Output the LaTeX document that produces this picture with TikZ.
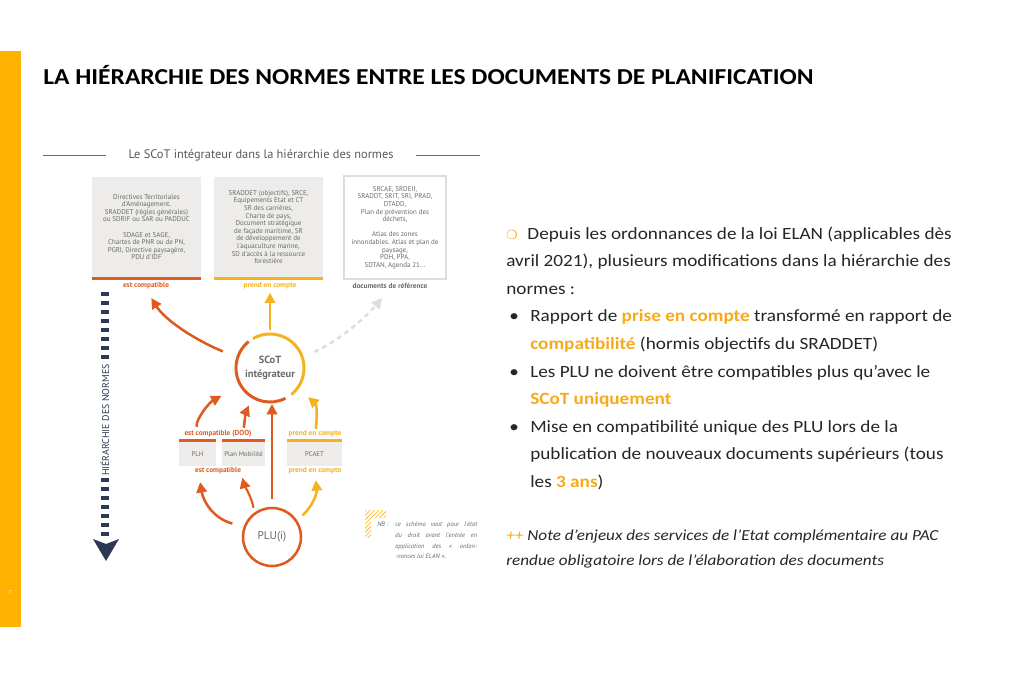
\documentclass[tikz,border=0pt]{standalone}
\usepackage{fontspec}
\setmainfont{Carlito}[FakeStretch=1.12]
\newfontfamily\dinfont{PT Sans}
\newfontfamily\symfont{DejaVu Sans}
\usetikzlibrary{arrows.meta,calc,patterns,positioning}
\definecolor{baryellow}{HTML}{FFB300}
\definecolor{compatorange}{HTML}{DE5B1F}
\definecolor{priseyellow}{HTML}{F5B21C}
\definecolor{refgray}{HTML}{DEDEDE}
\definecolor{boxgray}{HTML}{EDECEA}
\definecolor{textgray}{HTML}{6A6A6A}
\definecolor{navyarrow}{HTML}{2B3A52}
\definecolor{bodytext}{HTML}{262626}
\definecolor{highlight}{HTML}{F6AA1C}

\begin{document}
\begin{tikzpicture}[x=0.025cm,y=-0.025cm,>={Triangle[length=2.6mm,width=2.6mm]},
  docbox/.style={fill=boxgray,minimum width=2.725cm,minimum height=2.5cm,inner sep=0pt,
    align=center,text=textgray,font=\dinfont\fontsize{4.95}{5.4}\selectfont},
  petitbox/.style={fill=boxgray,minimum height=0.6cm,inner sep=0pt,text=textgray,
    font=\dinfont\fontsize{4.8}{5.5}\selectfont},
  lien/.style={inner sep=0pt,font=\dinfont\bfseries\fontsize{5.2}{6}\selectfont},
  fleche/.style={->,line width=1.8pt},
  ligne/.style={anchor=base west,inner sep=0pt,text=bodytext,font=\fontsize{12.2}{14}\selectfont}]
\useasboundingbox (0,0) rectangle (1024,678);
\fill[white] (0,0) rectangle (1024,678);

% bandeau + titre
\fill[baryellow] (0,51) rectangle (21,627);
\node[text=white!75!baryellow,font=\fontsize{4.5}{5}\selectfont] (pagenum) at (10,592) {7};
\node[anchor=base west,inner sep=0pt,font=\bfseries\fontsize{16.2}{18}\selectfont] (titre) at (43,84)
  {LA HIÉRARCHIE DES NORMES ENTRE LES DOCUMENTS DE PLANIFICATION};

% schema
\node[text=textgray!85!black,font=\dinfont\fontsize{8.8}{10}\selectfont] (entete) at (261,155)
  {Le SCoT intégrateur dans la hiérarchie des normes};
\draw[textgray,line width=0.6pt] ([xshift=-0.45cm]entete.west) -- ++(-63,0);
\draw[textgray,line width=0.6pt] ([xshift=0.45cm]entete.east) -- ++(64,0);

\node[docbox] (dirbox) at (146.5,227) {Directives Territoriales\\d'Aménagement.\\SRADDET (règles générales)\\ou SDRIF ou SAR ou PADDUC\\[5.4pt]
  SDAGE et SAGE,\\Chartes de PNR ou de PN,\\PGRI, Directive paysagère,\\PDU d'IDF};
\node[docbox] (objbox) at (268.5,227) {SRADDET (objectifs), SRCE,\\Equipements Etat et CT\\SR des carrières,\\Charte de pays,\\Document stratégique\\de façade maritime, SR\\
  de développement de\\l'aquaculture marine,\\SD d'accès à la ressource\\forestière};
\node[docbox,fill=white,draw=refgray,line width=1.2pt,minimum width=2.55cm,minimum height=2.575cm] (refbox) at (395,227.5)
  {SRCAE, SRDEII,\\SRADDT, SRIT, SRI, PRAD,\\DTADD,\\Plan de prévention des\\déchets,\\[5.4pt]Atlas des zones\\innondables. Atlas et plan de\\paysage,\\PDH, PPA,\\SDTAN, Agenda 21...};
\fill[compatorange] (dirbox.south west) rectangle ($(dirbox.south east)+(0,3)$);
\fill[priseyellow] (objbox.south west) rectangle ($(objbox.south east)+(0,3)$);

\node[lien,text=compatorange] (compathaut) at (146,286) {est compatible};
\node[lien,text=priseyellow] (prisehaut) at (270,286) {prend en compte};
\node[lien,text=textgray] (docref) at (390,286) {documents de référence};

% SCoT
\node[circle,minimum size=1.7cm,inner sep=0pt,outer sep=0pt,align=center,text=textgray,
  font=\dinfont\bfseries\fontsize{7.4}{10}\selectfont] (scot) at (270,368) {SCoT\\intégrateur};
\draw[compatorange,line width=2.1pt] (scot.129) arc[start angle=-129,end angle=-297,radius=34];
\draw[priseyellow,line width=2.1pt] (scot.-51) arc[start angle=51,end angle=-120,radius=34];

\draw[fleche,compatorange,shorten <=0.4cm,shorten >=0.25cm] (scot.162) .. controls (195,340) and (165,320) .. (compathaut.south);
\draw[fleche,priseyellow,shorten <=0.1cm,shorten >=0.08cm] (scot.north) -- (prisehaut.south);
\draw[fleche,refgray,dash pattern=on 0.12cm off 0.1cm,shorten <=0.33cm,shorten >=0.3cm] (scot.18) .. controls (340,340) and (365,318) .. (docref.south);

% documents intermediaires
\node[petitbox,minimum width=0.925cm] (plh) at (197.5,454) {PLH};
\node[petitbox,minimum width=1.075cm] (mobilite) at (243.5,454) {Plan Mobilité};
\node[petitbox,minimum width=1.375cm] (pcaet) at (314.5,454) {PCAET};
\fill[compatorange] (plh.north west) rectangle ($(plh.north east)+(0,-2.5)$);
\fill[compatorange] (mobilite.north west) rectangle ($(mobilite.north east)+(0,-2.5)$);
\fill[priseyellow] (pcaet.north west) rectangle ($(pcaet.north east)+(0,-2.5)$);
\node[lien,text=compatorange] (compatdoo) at (218,434) {est compatible (DOO)};
\node[lien,text=priseyellow] (priseplan) at (315,434) {prend en compte};
\node[lien,text=compatorange] (compatbas) at (218,471) {est compatible};
\node[lien,text=priseyellow] (prisebas) at (315,471) {prend en compte};

% PLU
\node[circle,draw=compatorange,line width=1.8pt,minimum size=1.45cm,inner sep=0pt,text=textgray,
  font=\dinfont\fontsize{8}{9}\selectfont] (plu) at (272,537) {PLU(i)};

\draw[fleche,compatorange,shorten <=0.375cm,shorten >=0.55cm] (plh.north) .. controls (196,418) and (210,402) .. (scot.211);
\draw[fleche,compatorange,shorten <=0.35cm,shorten >=0.225cm] (mobilite.north) .. controls (244,425) and (246,412) .. (scot.239);
\draw[fleche,compatorange,line width=2pt,shorten <=0.2cm,shorten >=0.05cm] (plu.north) -- (plu.north |- scot.south);
\draw[fleche,priseyellow,shorten <=0.325cm,shorten >=0.35cm] (pcaet.north) .. controls (317,418) and (317,405) .. (scot.-36);

\draw[fleche,compatorange,shorten <=0.29cm,shorten >=0.4cm] (plu.160) .. controls (212,518) and (203,500) .. (plh.south);
\draw[fleche,compatorange,line width=1.5pt,shorten <=0.12cm,shorten >=0.3cm] (plu.126) .. controls (252,498) and (244,484) .. (mobilite.250);
\draw[fleche,priseyellow,shorten <=0.18cm,shorten >=0.35cm] (plu.34) .. controls (314,505) and (317,492) .. (pcaet.south);

% fleche hierarchie
\node[rotate=90,inner sep=1pt,text=navyarrow,font=\dinfont\fontsize{7}{8}\selectfont] (hierarchie) at (105,420) {HIÉRARCHIE DES NORMES};
\draw[navyarrow,line width=5pt,dash pattern=on 2.85pt off 3.55pt] (105,292) -- (hierarchie.east);
\draw[navyarrow,line width=5pt,dash pattern=on 2.85pt off 3.55pt] (hierarchie.west) -- (105,538);
\fill[navyarrow] (93,539) -- (106,544) -- (119,539) -- (106,561) -- cycle;

% NB
\fill[pattern=north east lines,pattern color=priseyellow] (365,510) rectangle (386,517);
\fill[pattern=north east lines,pattern color=priseyellow] (365,517) rectangle (371,537);
\node[anchor=north west,inner sep=0pt,text=textgray,font=\dinfont\itshape\fontsize{4.6}{5}\selectfont] (nbmark) at (377,522) {NB :};
\node[anchor=north west,inner sep=0pt,align=left,text=textgray,font=\dinfont\itshape\fontsize{4.6}{7.5}\selectfont] (nbtext) at (395,522)
  {\makebox[2.05cm][s]{ce schéma vaut pour l'état}\\\makebox[2.05cm][s]{du droit avant l'entrée en}\\
   \makebox[2.05cm][s]{application des « ordon-}\\-nances loi ELAN ».};

% texte de droite
\node[ligne] (l1) at (506,239) {{\symfont\fontsize{9}{9}\selectfont\color{highlight}❍}\hspace{7pt}Depuis les ordonnances de la loi ELAN (applicables dès};
\node[ligne] (l2) at (506,266.6) {avril 2021), plusieurs modifications dans la hiérarchie des};
\node[ligne] (l3) at (506,294.2) {normes :};
\node[ligne] (b1) at (509,321.8) {•};
\node[ligne] (l4) at (530,321.8) {Rapport de \textbf{\color{highlight}prise en compte} transformé en rapport de};
\node[ligne] (l5) at (530,349.4) {\textbf{\color{highlight}compatibilité} (hormis objectifs du SRADDET)};
\node[ligne] (b2) at (509,377) {•};
\node[ligne] (l6) at (530,377) {Les PLU ne doivent être compatibles plus qu’avec le};
\node[ligne] (l7) at (530,404.6) {\textbf{\color{highlight}SCoT uniquement}};
\node[ligne] (b3) at (509,432.2) {•};
\node[ligne] (l8) at (530,432.2) {Mise en compatibilité unique des PLU lors de la};
\node[ligne] (l9) at (530,459.8) {publication de nouveaux documents supérieurs (tous};
\node[ligne] (l10) at (530,487.4) {les \textbf{\color{highlight}3 ans})};
\node[ligne,font=\itshape\fontsize{10.9}{13}\selectfont] (n1) at (506,540) {{\color{highlight}++} Note d’enjeux des services de l’Etat complémentaire au PAC};
\node[ligne,font=\itshape\fontsize{10.9}{13}\selectfont] (n2) at (506,565) {rendue obligatoire lors de l’élaboration des documents};
\end{tikzpicture}
\end{document}
